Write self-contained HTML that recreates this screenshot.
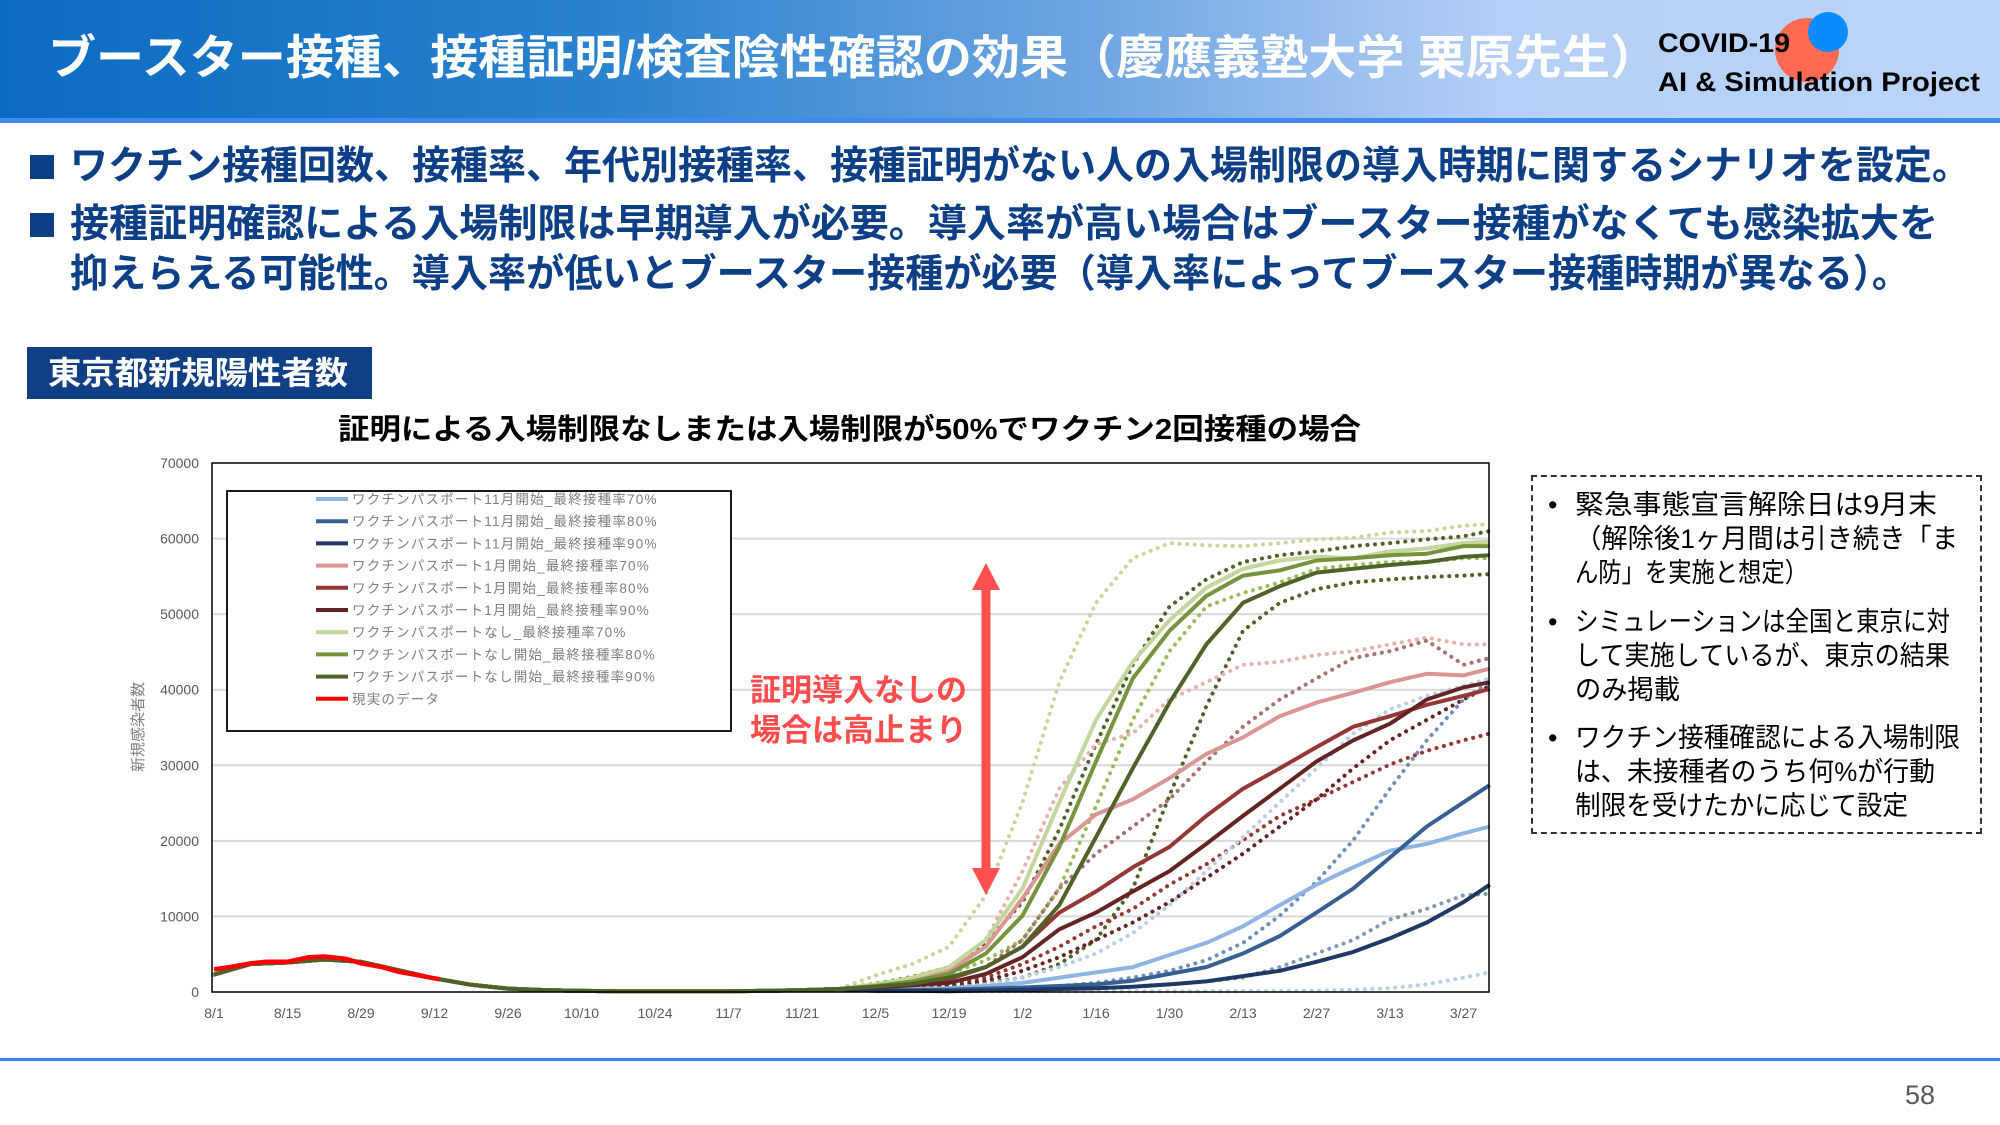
<!DOCTYPE html>
<html><head><meta charset="utf-8">
<style>
html,body{margin:0;padding:0;}
body{width:2000px;height:1125px;position:relative;overflow:hidden;background:#fff;font-family:"Liberation Sans","Noto Sans CJK JP",sans-serif;}
.abs{position:absolute;white-space:nowrap;}
.fit{transform-origin:0 0;}
#header{left:0;top:0;width:2000px;height:118px;background:linear-gradient(90deg,#0a6bc2 0%,#2a82cf 30%,#6fa6e2 55%,#b5cff6 75%,#bcd4f8 100%);}
#hline{left:0;top:118px;width:2000px;height:5px;background:#4189ef;}
#title{left:48px;top:28px;font-size:47px;font-weight:bold;color:#fff;line-height:60px;}
.bul{font-size:39px;font-weight:bold;color:#0d3f87;line-height:50px;}
.sq{width:24px;height:24px;background:#0d3f87;}
.rt{font-size:27px;color:#000;line-height:34px;}
</style></head>
<body>
<div class="abs" id="header"></div>
<div class="abs" id="hline"></div>
<div class="abs fit" id="title" data-w="1610">ブースター接種、接種証明/検査陰性確認の効果（慶應義塾大学 栗原先生）</div>
<svg class="abs" style="left:1760px;top:0" width="100" height="100">
<circle cx="47" cy="50" r="32" fill="#ff6a50"/><circle cx="68" cy="32" r="20" fill="#0a8cff"/></svg>
<div class="abs fit" data-w="132" style="left:1658px;top:27px;font-size:27px;font-weight:bold;line-height:32px;color:#000">COVID-19</div>
<div class="abs fit" data-w="322" style="left:1658px;top:66px;font-size:27px;font-weight:bold;line-height:32px;color:#000">AI &amp; Simulation Project</div>

<div class="abs sq" style="left:30px;top:155px"></div>
<div class="abs bul fit" data-w="1900" style="left:70px;top:142px">ワクチン接種回数、接種率、年代別接種率、接種証明がない人の入場制限の導入時期に関するシナリオを設定。</div>
<div class="abs sq" style="left:30px;top:213px"></div>
<div class="abs bul fit" data-w="1868" style="left:70px;top:200px">接種証明確認による入場制限は早期導入が必要。導入率が高い場合はブースター接種がなくても感染拡大を</div>
<div class="abs bul fit" data-w="1840" style="left:70px;top:250px">抑えらえる可能性。導入率が低いとブースター接種が必要（導入率によってブースター接種時期が異なる）。</div>

<div class="abs" style="left:27px;top:347px;width:345px;height:52px;background:#0f3f85"></div>
<div class="abs fit" data-w="300" style="left:48px;top:352px;font-size:32px;font-weight:bold;color:#fff;line-height:42px">東京都新規陽性者数</div>

<div class="abs fit" data-w="1023" style="left:338px;top:410px;font-size:29px;font-weight:bold;color:#000;line-height:40px">証明による入場制限なしまたは入場制限が50%でワクチン2回接種の場合</div>

<svg class="abs" id="chart" style="left:0;top:0" width="2000" height="1125"></svg>

<div class="abs" style="left:1531px;top:475px;width:447px;height:355px;border:2.5px dashed #333"></div>
<div class="abs rt" style="left:1548px;top:488px">•</div>
<div class="abs rt fit" data-w="362" style="left:1575px;top:488px">緊急事態宣言解除日は9月末</div>
<div class="abs rt fit" data-w="383" style="left:1575px;top:522px">（解除後1ヶ月間は引き続き「ま</div>
<div class="abs rt fit" data-w="233" style="left:1575px;top:556px">ん防」を実施と想定）</div>
<div class="abs rt" style="left:1548px;top:605px">•</div>
<div class="abs rt fit" data-w="375" style="left:1575px;top:605px">シミュレーションは全国と東京に対</div>
<div class="abs rt fit" data-w="375" style="left:1575px;top:639px">して実施しているが、東京の結果</div>
<div class="abs rt fit" data-w="105" style="left:1575px;top:673px">のみ掲載</div>
<div class="abs rt" style="left:1548px;top:721px">•</div>
<div class="abs rt fit" data-w="385" style="left:1575px;top:721px">ワクチン接種確認による入場制限</div>
<div class="abs rt fit" data-w="360" style="left:1575px;top:755px">は、未接種者のうち何%が行動</div>
<div class="abs rt fit" data-w="333" style="left:1575px;top:789px">制限を受けたかに応じて設定</div>

<div class="abs" style="left:750px;top:671px;font-size:31px;font-weight:bold;color:#ff4d4d;line-height:40px">証明導入なしの<br>場合は高止まり</div>

<div class="abs" style="left:0;top:1058px;width:2000px;height:3px;background:#3b82e6"></div>
<div class="abs" style="left:1905px;top:1078px;font-size:27px;color:#595959;line-height:34px">58</div>

<script>
const xTickLabels=['8/1','8/15','8/29','9/12','9/26','10/10','10/24','11/7','11/21','12/5','12/19','1/2','1/16','1/30','2/13','2/27','3/13','3/27'];
const xTickDays=[0,14,28,42,56,70,84,98,112,126,140,154,168,182,196,210,224,238];
const yTicks=[0,10000,20000,30000,40000,50000,60000,70000];
const earlyDays=[0,7,14,21,28,35,42,49,56,63,70,77,84,91,98,105,112,119];
const earlyVals=[2300,3700,3900,4300,4000,2900,1800,950,450,250,150,100,100,100,100,150,250,400];
const lateDays=[126,133,140,147,154,161,168,175,182,189,196,203,210,217,224,231,238,243];
const realDays=[0,3,7,10,14,18,21,25,28,32,35,39,42,43];
const realVals=[3000,3300,3800,4000,4000,4600,4700,4400,3800,3300,2700,2200,1800,1700];
// solid scenario series
const pass11_70=[300,400,500,800,1200,1900,2600,3300,4900,6500,8700,11500,14200,16500,18700,19600,21000,21900];
const pass11_80=[200,250,300,450,600,800,1000,1500,2400,3300,5100,7400,10500,13700,17800,21900,25100,27400];
const pass11_90=[150,150,100,200,300,400,500,700,1000,1400,2100,2800,4000,5300,7100,9200,11900,14200];
const pass1_70=[900,1600,2800,6000,12400,19600,23500,25500,28300,31500,33700,36500,38300,39600,41000,42100,41900,42800];
const pass1_80=[700,1100,1700,3300,6000,10500,13300,16500,19200,23300,26900,29600,32400,35100,36500,38000,39200,40100];
const pass1_90=[600,900,1200,2400,4600,8300,10500,13300,16000,19600,23300,26900,30500,33300,35500,38700,40300,41000];
const none_70=[1000,1900,3300,6900,13700,25100,36000,43700,49200,53500,56000,57100,57600,57400,58300,58700,59400,59600];
const none_80=[800,1400,2400,5100,10100,19200,30500,41500,47800,52400,55100,55800,57100,57400,57800,58000,59000,59000];
const none_90=[700,1100,1900,3300,6000,11500,20500,29600,38300,46000,51500,53700,55500,56000,56500,56900,57600,57800];
// dotted sensitivity series
const dot1=[2200,3700,6000,12800,25100,41000,51500,57400,59400,59100,59000,59400,59900,60100,60800,61000,61700,61900];
const dot2=[1100,2000,3300,6500,11900,21500,32800,43300,51000,54600,56900,57800,58300,59000,59400,59900,60300,61000];
const dot3=[900,1500,2400,4200,6900,13700,24600,36000,45100,51000,52800,54200,56000,56500,56900,56900,57400,57400];
const dot4=[400,600,800,1200,1900,3700,6900,13700,26000,37800,47800,51500,53300,54200,54600,54900,55100,55300];
const dot5=[1000,1700,2800,6900,16000,26900,32800,34200,38700,41000,43300,43700,44600,45100,46000,46900,46000,46000];
const dot6=[700,1100,1700,3300,6900,13700,18300,21900,25500,30500,35100,38700,41500,44200,45100,46500,43300,44200];
const dot7=[500,700,1000,1900,3700,6000,8700,11000,14200,16900,20100,23300,25500,27800,30100,31900,33300,34200];
const dot8=[400,600,800,1500,2800,4600,6900,9200,11900,15100,18300,21900,25500,29600,33300,36000,38700,40500];
const dot9=[250,350,500,1000,1900,3300,5100,7800,11500,16000,20500,25100,29600,34200,37400,39200,40500,41500];
const dot10=[150,180,200,300,500,800,1200,1900,2800,4200,6500,10100,14600,20100,26900,33300,38700,41000];
const dot11=[100,100,100,100,100,100,100,100,100,100,120,150,200,300,500,1000,1900,2600];
const dot12=[150,150,200,250,300,400,500,700,1000,1400,1900,3300,5100,6900,9600,11000,12800,13000];

const NS='http://www.w3.org/2000/svg';
const svg=document.getElementById('chart');
const L=212,R=1489,T=463,B=992;
const xs=d=>214+5.25*d;
const ys=v=>B-v/70000*(B-T);
function mk(tag,attrs){const e=document.createElementNS(NS,tag);for(const k in attrs)e.setAttribute(k,attrs[k]);svg.appendChild(e);return e;}

yTicks.forEach((v,i)=>{
  if(v>0&&v<70000){const g=mk('line',{x1:L,x2:R,y1:ys(v),y2:ys(v),stroke:'#d9d9d9','stroke-width':2});
  
  }
  const t=mk('text',{x:199,y:ys(v)+5,'text-anchor':'end','font-size':14,fill:'#595959','font-family':'Liberation Sans, sans-serif'});
  t.textContent=v;
  
  
});
xTickLabels.forEach((lab,i)=>{
  const t=mk('text',{x:xs(xTickDays[i]),y:1018,'text-anchor':'middle','font-size':14,fill:'#595959','font-family':'Liberation Sans, sans-serif'});
  t.textContent=lab;
  
  
});
const yt=mk('text',{x:0,y:0,transform:'translate(143,727) rotate(-90)','text-anchor':'middle','font-size':15,fill:'#7f7f7f','font-family':'Liberation Sans, Noto Sans CJK JP, sans-serif'});
yt.textContent='新規感染者数';



function pts(vals){
  const p=[];earlyDays.forEach((d,i)=>p.push(xs(d).toFixed(1)+','+ys(earlyVals[i]).toFixed(1)));
  lateDays.forEach((d,i)=>p.push(xs(d).toFixed(1)+','+ys(vals[i]).toFixed(1)));
  return p.join(' ');
}
const dotted=[[dot1,'#c3d69b'],[dot2,'#4f6228'],[dot3,'#9bbb59'],[dot4,'#4f6228'],[dot5,'#e6b0b0'],[dot6,'#a57171'],[dot7,'#953735'],[dot8,'#632523'],[dot9,'#b9cde5'],[dot10,'#6f8fb8'],[dot11,'#b9cde5'],[dot12,'#8497b0']];
dotted.forEach(([v,c])=>{
  const pl=mk('polyline',{points:pts(v),fill:'none',stroke:c,'stroke-width':4,'stroke-linecap':'round','stroke-dasharray':'0.1 7.5'});
  
  
});
const solid=[[pass11_70,'#8eb4e3','ワクチンパスポート11月開始_最終接種率70%'],[pass11_80,'#376092','ワクチンパスポート11月開始_最終接種率80%'],[pass11_90,'#1f3864','ワクチンパスポート11月開始_最終接種率90%'],[pass1_70,'#d99694','ワクチンパスポート1月開始_最終接種率70%'],[pass1_80,'#953735','ワクチンパスポート1月開始_最終接種率80%'],[pass1_90,'#632523','ワクチンパスポート1月開始_最終接種率90%'],[none_70,'#c3d69b','ワクチンパスポートなし_最終接種率70%'],[none_80,'#77933c','ワクチンパスポートなし開始_最終接種率80%'],[none_90,'#4f6228','ワクチンパスポートなし開始_最終接種率90%']];
solid.forEach(([v,c])=>{
  const pl=mk('polyline',{points:pts(v),fill:'none',stroke:c,'stroke-width':4,'stroke-linejoin':'round'});
  
  
});
const rp=realDays.map((d,i)=>xs(d).toFixed(1)+','+ys(realVals[i]).toFixed(1)).join(' ');
const rl=mk('polyline',{points:rp,fill:'none',stroke:'#ff0000','stroke-width':4.5,'stroke-linejoin':'round'});



const fr=mk('rect',{x:L,y:T,width:R-L,height:B-T,fill:'none',stroke:'#000','stroke-width':1.5});



const lg=mk('rect',{x:227,y:491,width:504,height:240,fill:'#fff',stroke:'#000','stroke-width':1.8});


const legendItems=solid.map(s=>[s[1],s[2]]).concat([['#ff0000','現実のデータ']]);
legendItems.forEach(([c,lab],i)=>{
  const y=499+i*22.2;
  const ln=mk('line',{x1:316,x2:348,y1:y,y2:y,stroke:c,'stroke-width':4});
  
  
  const t=mk('text',{x:352,y:y+5,'font-size':13.5,fill:'#7f7f7f','font-family':'Liberation Sans, Noto Sans CJK JP, sans-serif','letter-spacing':'1.2'});
  t.textContent=lab;
  
  
});

const ar=mk('path',{d:'M986,563 L1000,590 L990.5,590 L990.5,868 L1000,868 L986,895 L972,868 L981.5,868 L981.5,590 L972,590 Z',fill:'#ff5050'});



document.querySelectorAll('.fit').forEach(el=>{
  const w=el.getBoundingClientRect().width;
  const target=parseFloat(el.getAttribute('data-w'));
  if(w>0&&target)el.style.transform='scaleX('+(target/w)+')';
});
</script>
</body></html>
